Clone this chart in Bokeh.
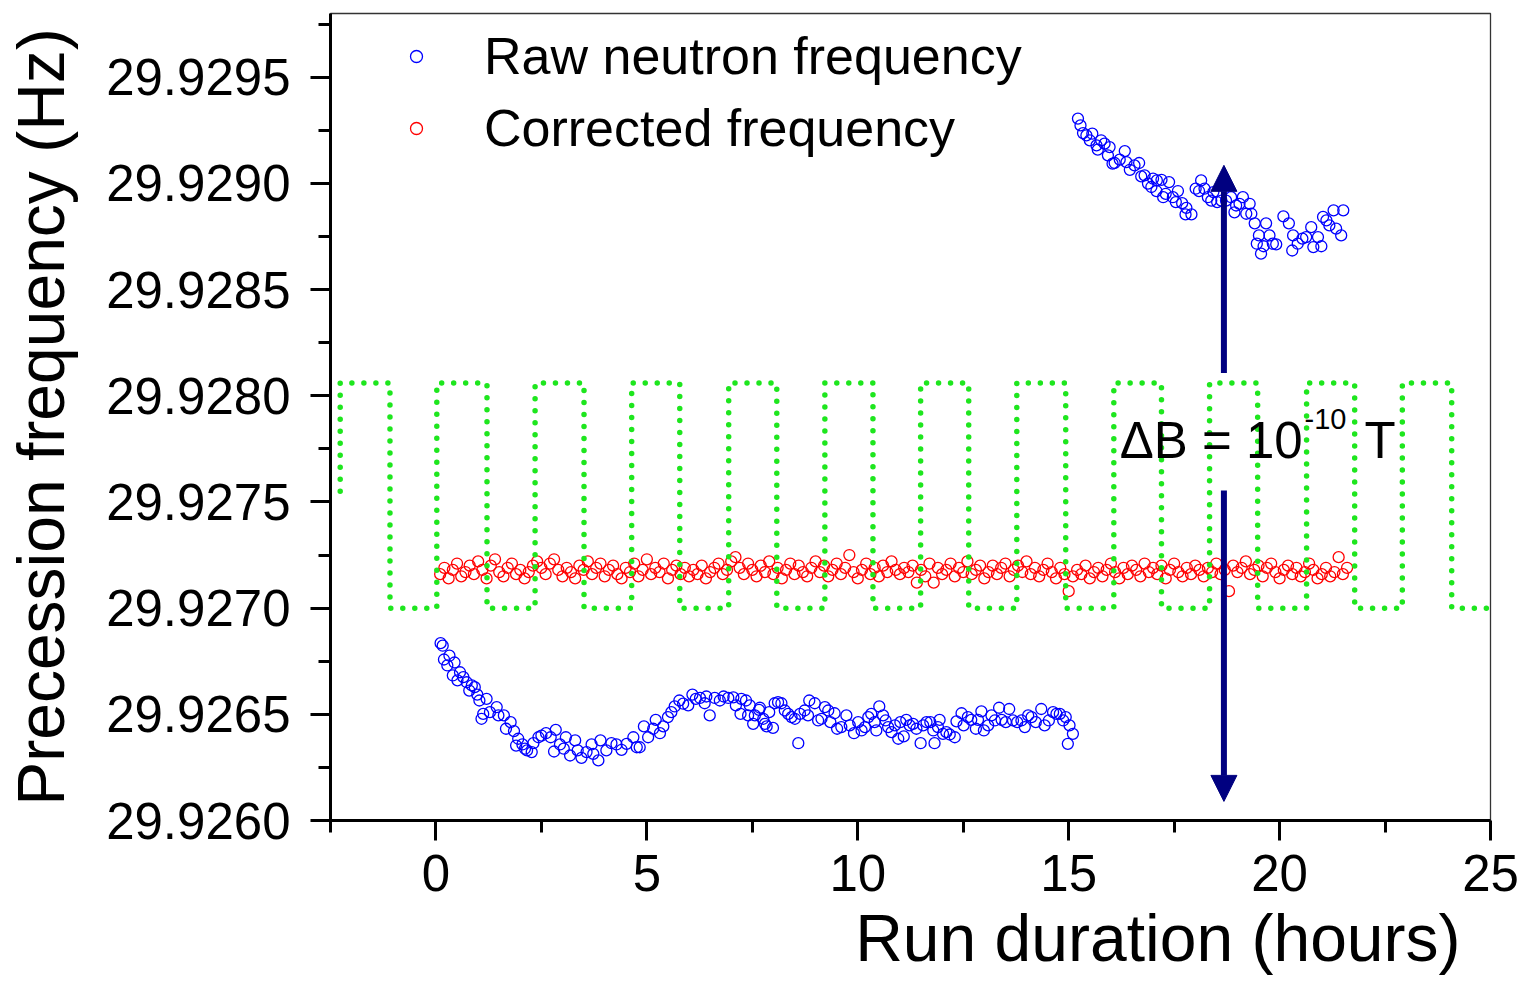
from bokeh.plotting import figure
from bokeh.models import (FixedTicker, PrintfTickFormatter, Legend, LegendItem,
                          Label, Arrow, NormalHead, Title)
from bokeh.embed import file_html
from bokeh.resources import INLINE

FONT = "Liberation Sans"

# ---------------- data ----------------
raw_t = [0.11, 0.16, 0.19, 0.27, 0.32, 0.40, 0.44, 0.51, 0.57, 0.65, 0.73, 0.79, 0.85, 0.92, 0.98,
         1.03, 1.08, 1.12, 1.20, 1.28, 1.44, 1.48, 1.61, 1.66, 1.77, 1.85, 1.90, 1.95, 2.05, 2.11,
         2.16, 2.27, 2.31, 2.43, 2.50, 2.61, 2.72, 2.80, 2.84, 2.94, 3.03, 3.08, 3.18, 3.30, 3.36,
         3.45, 3.57, 3.69, 3.73, 3.85, 3.90, 4.04, 4.16, 4.28, 4.40, 4.52, 4.68, 4.76, 4.83, 4.93,
         5.03, 5.15, 5.21, 5.31, 5.39, 5.50, 5.58, 5.66, 5.77, 5.86, 5.98, 6.08, 6.16, 6.26, 6.37,
         6.41, 6.49, 6.61, 6.73, 6.82, 6.93, 7.05, 7.11, 7.22, 7.24, 7.35, 7.40, 7.44, 7.52, 7.56,
         7.66, 7.68, 7.76, 7.80, 7.84, 7.90, 7.99, 8.03, 8.11, 8.19, 8.27, 8.35, 8.43, 8.51, 8.59,
         8.63, 8.74, 8.82, 8.85, 8.98, 9.06, 9.14, 9.22, 9.30, 9.35, 9.45, 9.51, 9.61, 9.73, 9.81,
         9.91, 10.01, 10.09, 10.17, 10.25, 10.32, 10.40, 10.44, 10.51, 10.60, 10.66, 10.72, 10.80,
         10.88, 10.96, 11.01, 11.09, 11.15, 11.23, 11.31, 11.39, 11.49, 11.55, 11.63, 11.72, 11.79,
         11.82, 11.90, 11.94, 12.02, 12.10, 12.18, 12.30, 12.34, 12.46, 12.51, 12.61, 12.69, 12.80,
         12.85, 12.93, 12.99, 13.09, 13.17, 13.25, 13.35, 13.41, 13.51, 13.59, 13.68, 13.78, 13.88,
         13.96, 14.04, 14.12, 14.22, 14.35, 14.43, 14.53, 14.63, 14.71, 14.79, 14.87, 14.93, 14.98,
         15.02, 15.10,
         15.22, 15.28, 15.34, 15.42, 15.50, 15.56, 15.66, 15.69, 15.77, 15.85, 15.93, 15.97, 16.04,
         16.09, 16.21, 16.33, 16.37, 16.45, 16.56, 16.67, 16.72, 16.80, 16.88, 16.96, 17.00, 17.08,
         17.09, 17.20, 17.24, 17.30, 17.38, 17.47, 17.54, 17.59, 17.69, 17.77, 17.79, 17.91, 18.01,
         18.09, 18.14, 18.22, 18.30, 18.38, 18.43, 18.52, 18.62, 18.73, 18.85, 18.93, 18.97, 19.05,
         19.13, 19.21, 19.29, 19.33, 19.41, 19.46, 19.51, 19.56, 19.62, 19.68, 19.76, 19.84, 19.92,
         20.09, 20.22, 20.30, 20.32, 20.43, 20.54, 20.63, 20.75, 20.80, 20.91, 20.99, 21.03, 21.11,
         21.18, 21.28, 21.34, 21.46, 21.51]
raw_f = [29.926835, 29.926823, 29.926758, 29.926730, 29.926776, 29.926683, 29.926744, 29.926660,
         29.926698, 29.926675, 29.926651, 29.926612, 29.926636, 29.926628, 29.926593, 29.926565,
         29.926479, 29.926502, 29.926573, 29.926510, 29.926534, 29.926495, 29.926495, 29.926432,
         29.926463, 29.926421, 29.926353, 29.926385, 29.926358, 29.926338, 29.926330, 29.926322,
         29.926364, 29.926392, 29.926400, 29.926411, 29.926392, 29.926325, 29.926427, 29.926358,
         29.926338, 29.926392, 29.926306, 29.926377, 29.926330, 29.926295, 29.926322, 29.926358,
         29.926314, 29.926283, 29.926377, 29.926330, 29.926364, 29.926358, 29.926333, 29.926361,
         29.926392, 29.926345, 29.926345, 29.926443, 29.926392, 29.926432, 29.926474, 29.926411,
         29.926443, 29.926487, 29.926510, 29.926537, 29.926565, 29.926550, 29.926542, 29.926593,
         29.926573, 29.926577, 29.926552, 29.926584, 29.926495, 29.926577, 29.926565, 29.926584,
         29.926577, 29.926580, 29.926542, 29.926502, 29.926573, 29.926565, 29.926495, 29.926542,
         29.926455, 29.926495, 29.926521, 29.926531, 29.926479, 29.926455, 29.926443, 29.926510,
         29.926436, 29.926552, 29.926557, 29.926552, 29.926518, 29.926502, 29.926487, 29.926479,
         29.926364, 29.926502, 29.926518, 29.926495, 29.926565, 29.926552, 29.926471, 29.926479,
         29.926534, 29.926518, 29.926463, 29.926505, 29.926432, 29.926440, 29.926495, 29.926448,
         29.926411, 29.926463, 29.926424, 29.926440, 29.926487, 29.926502, 29.926463, 29.926424,
         29.926537, 29.926495, 29.926471, 29.926440, 29.926416, 29.926448, 29.926385, 29.926463,
         29.926396, 29.926474, 29.926448, 29.926455, 29.926432, 29.926364, 29.926448, 29.926463,
         29.926463, 29.926424, 29.926364, 29.926440, 29.926474, 29.926408, 29.926416, 29.926405,
         29.926392, 29.926467, 29.926505, 29.926448, 29.926487, 29.926474, 29.926432, 29.926474,
         29.926514, 29.926424, 29.926448, 29.926495, 29.926471, 29.926531, 29.926474, 29.926463,
         29.926525, 29.926471, 29.926463, 29.926471, 29.926440, 29.926495, 29.926487, 29.926463,
         29.926525, 29.926448, 29.926471, 29.926510, 29.926502, 29.926502, 29.926471, 29.926487,
         29.926361, 29.926448, 29.926408,
         29.929305, 29.929273, 29.929237, 29.929226, 29.929203, 29.929234, 29.929179, 29.929159,
         29.929203, 29.929187, 29.929132, 29.929171, 29.929093, 29.929096, 29.929112, 29.929152,
         29.929100, 29.929064, 29.929085, 29.929096, 29.929033, 29.929038, 29.928999, 29.928983,
         29.929022, 29.928964, 29.929014, 29.929017, 29.928935, 29.928951, 29.929006, 29.928935,
         29.928912, 29.928964, 29.928907, 29.928854, 29.928885, 29.928854, 29.928975, 29.928964,
         29.929014, 29.928975, 29.928935, 29.928919, 29.928959, 29.928912, 29.928919, 29.928919,
         29.928935, 29.928864, 29.928896, 29.928904, 29.928935, 29.928857, 29.928904, 29.928857,
         29.928812, 29.928716, 29.928755, 29.928669, 29.928704, 29.928812, 29.928755, 29.928716,
         29.928713, 29.928845, 29.928812, 29.928684, 29.928755, 29.928716, 29.928740, 29.928747,
         29.928794, 29.928700, 29.928747, 29.928704, 29.928842, 29.928826, 29.928802, 29.928873,
         29.928787, 29.928755, 29.928873]

corr_t = [0.1, 0.2, 0.3, 0.4, 0.5, 0.6, 0.7, 0.8, 0.9, 1.0,
          1.1, 1.2, 1.3, 1.4, 1.5, 1.6, 1.7, 1.8, 1.9, 2.0,
          2.1, 2.2, 2.3, 2.4, 2.5, 2.6, 2.7, 2.8, 2.9, 3.0,
          3.1, 3.2, 3.3, 3.4, 3.5, 3.6, 3.7, 3.8, 3.9, 4.0,
          4.1, 4.2, 4.3, 4.4, 4.5, 4.6, 4.7, 4.8, 4.9, 5.0,
          5.1, 5.2, 5.3, 5.4, 5.5, 5.6, 5.7, 5.8, 5.9, 6.0,
          6.1, 6.2, 6.3, 6.4, 6.5, 6.6, 6.7, 6.8, 6.9, 7.0,
          7.1, 7.2, 7.3, 7.4, 7.5, 7.6, 7.7, 7.8, 7.9, 8.0,
          8.1, 8.2, 8.3, 8.4, 8.5, 8.6, 8.7, 8.8, 8.9, 9.0,
          9.1, 9.2, 9.3, 9.4, 9.5, 9.6, 9.7, 9.8, 9.9, 10.0,
          10.1, 10.2, 10.3, 10.4, 10.5, 10.6, 10.7, 10.8, 10.9, 11.0,
          11.1, 11.2, 11.3, 11.4, 11.5, 11.6, 11.7, 11.8, 11.9, 12.0,
          12.1, 12.2, 12.3, 12.4, 12.5, 12.6, 12.7, 12.8, 12.9, 13.0,
          13.1, 13.2, 13.3, 13.4, 13.5, 13.6, 13.7, 13.8, 13.9, 14.0,
          14.1, 14.2, 14.3, 14.4, 14.5, 14.6, 14.7, 14.8, 14.9, 15.0,
          15.1, 15.2, 15.3, 15.4, 15.5, 15.6, 15.7, 15.8, 15.9, 16.0,
          16.1, 16.2, 16.3, 16.4, 16.5, 16.6, 16.7, 16.8, 16.9, 17.0,
          17.1, 17.2, 17.3, 17.4, 17.5, 17.6, 17.7, 17.8, 17.9, 18.0,
          18.1, 18.2, 18.3, 18.4, 18.5, 18.6, 18.7, 18.8, 18.9, 19.0,
          19.1, 19.2, 19.3, 19.4, 19.5, 19.6, 19.7, 19.8, 19.9, 20.0,
          20.1, 20.2, 20.3, 20.4, 20.5, 20.6, 20.7, 20.8, 20.9, 21.0,
          21.1, 21.2, 21.3, 21.4, 21.5, 21.6]
corr_f = [29.92716, 29.92719, 29.92714, 29.92718, 29.92721, 29.92715, 29.92717, 29.92720, 29.92716, 29.92722,
          29.92718, 29.92714, 29.92720, 29.92723, 29.92717, 29.92715, 29.92719, 29.92721, 29.92716, 29.92718,
          29.92714, 29.92717, 29.92720, 29.92722, 29.92719, 29.92716, 29.92721, 29.92723, 29.92718, 29.92715,
          29.92719, 29.92717, 29.92714, 29.92720, 29.92718, 29.92722, 29.92716, 29.92719, 29.92721, 29.92715,
          29.92718, 29.92720, 29.92716, 29.92714, 29.92719, 29.92717, 29.92721, 29.92715, 29.92718, 29.92723,
          29.92716, 29.92719, 29.92717, 29.92721, 29.92714, 29.92718, 29.92720, 29.92716, 29.92719, 29.92715,
          29.92718, 29.92716, 29.92720, 29.92714, 29.92717, 29.92719, 29.92721, 29.92716, 29.92718, 29.92722,
          29.92724, 29.92719, 29.92716, 29.92721, 29.92718, 29.92715, 29.92720, 29.92717, 29.92722, 29.92716,
          29.92719, 29.92714, 29.92718, 29.92721, 29.92716, 29.92720, 29.92717, 29.92715, 29.92719, 29.92722,
          29.92717, 29.92720, 29.92715, 29.92718, 29.92721, 29.92716, 29.92719, 29.92725, 29.92717, 29.92714,
          29.92718, 29.92721, 29.92716, 29.92719, 29.92715, 29.92720, 29.92717, 29.92722, 29.92718, 29.92716,
          29.92719, 29.92717, 29.92720, 29.92712, 29.92718, 29.92715, 29.92721, 29.92712, 29.92719, 29.92716,
          29.92718, 29.92721, 29.92715, 29.92719, 29.92717, 29.92722, 29.92716, 29.92718, 29.92720, 29.92714,
          29.92717, 29.92720, 29.92716, 29.92719, 29.92721, 29.92715, 29.92718, 29.92720, 29.92717, 29.92722,
          29.92716, 29.92719, 29.92715, 29.92718, 29.92721, 29.92717, 29.92714, 29.92719, 29.92716, 29.92708,
          29.92715, 29.92718, 29.92716, 29.92720, 29.92714, 29.92717, 29.92719, 29.92715, 29.92718, 29.92721,
          29.92717, 29.92714, 29.92719, 29.92716, 29.92720, 29.92718, 29.92715, 29.92721, 29.92717, 29.92719,
          29.92716, 29.92720, 29.92714, 29.92718, 29.92721, 29.92717, 29.92715, 29.92719, 29.92716, 29.92720,
          29.92718, 29.92715, 29.92719, 29.92717, 29.92721, 29.92716, 29.92718, 29.92708, 29.92720, 29.92717,
          29.92719, 29.92722, 29.92716, 29.92718, 29.92720, 29.92715, 29.92719, 29.92721, 29.92717, 29.92714,
          29.92718, 29.92720, 29.92716, 29.92719, 29.92715, 29.92717, 29.92721, 29.92718, 29.92714, 29.92716,
          29.92719, 29.92715, 29.92717, 29.92724, 29.92716, 29.92719]

# magnetic-field modulation (square wave): switch times and levels
wave_t = [-2.27, -1.09, 0.02, 1.21, 2.35, 3.51, 4.64, 5.78, 6.94, 8.08, 9.22, 10.36, 11.49,
          12.63, 13.77, 14.93, 16.07, 17.20, 18.34, 19.48, 20.64, 21.78, 22.91, 24.08, 25.21]
wave_start = 29.92755
wave_high = 29.92806
wave_low = 29.92700

x_ticks = [0, 5, 10, 15, 20, 25]
x_minor = [-2.5, 2.5, 7.5, 12.5, 17.5, 22.5]
y_ticks = [29.9260, 29.9265, 29.9270, 29.9275, 29.9280, 29.9285, 29.9290, 29.9295]
y_minor = [29.92625, 29.92675, 29.92725, 29.92775, 29.92825, 29.92875, 29.92925, 29.92975]

# build the square-wave polyline
wx = [wave_t[0], wave_t[0]]
wy = [wave_start, wave_high]
cur = wave_high
for t in wave_t[1:]:
    nxt = wave_low if cur == wave_high else wave_high
    wx += [t, t]
    wy += [cur, nxt]
    cur = nxt

# ---------------- figure ----------------
p = figure(width=1519, height=981, x_range=(-2.5, 25), y_range=(29.9260, 29.92980),
           output_backend="svg", toolbar_location=None,
           min_border_left=330, min_border_right=29, min_border_top=13, min_border_bottom=161)
p.background_fill_color = "white"
p.border_fill_color = "white"
p.grid.visible = False
p.outline_line_color = "#333333"
p.outline_line_width = 1.3

r_raw = p.scatter(raw_t, raw_f, marker="circle", size=11, fill_color=None,
                  line_color="#0000FF", line_width=1.3)
r_corr = p.scatter(corr_t, corr_f, marker="circle", size=11, fill_color=None,
                   line_color="#FF0000", line_width=1.3)
p.line(wx, wy, line_color="#1EE61E", line_width=5.5, line_dash="0 12", line_cap="round")

navy = "#000080"
p.add_layout(Arrow(x_start=18.68, y_start=29.928107, x_end=18.68, y_end=29.929085,
                   line_color=navy, line_width=6,
                   end=NormalHead(size=26, fill_color=navy, line_color=navy)))
p.add_layout(Arrow(x_start=18.68, y_start=29.927554, x_end=18.68, y_end=29.926090,
                   line_color=navy, line_width=6,
                   end=NormalHead(size=26, fill_color=navy, line_color=navy)))

p.add_layout(Label(x=16.21, y=29.927790, text="\u0394B = 10", text_font=FONT,
                   text_font_size="51px", text_color="black",
                   text_baseline="alphabetic", text_align="left"))
p.add_layout(Label(x=20.59, y=29.927889, text="-10", text_font=FONT,
                   text_font_size="29px", text_color="black",
                   text_baseline="alphabetic", text_align="left"))
p.add_layout(Label(x=22.01, y=29.927790, text="T", text_font=FONT,
                   text_font_size="51px", text_color="black",
                   text_baseline="alphabetic", text_align="left"))

# axes
for ax in (p.xaxis[0], p.yaxis[0]):
    ax.axis_line_width = 3
    ax.axis_line_color = "black"
    ax.major_tick_line_width = 3
    ax.minor_tick_line_width = 3
    ax.major_tick_out = 20
    ax.major_tick_in = 0
    ax.minor_tick_out = 12
    ax.minor_tick_in = 0
    ax.major_label_text_font = FONT
    ax.major_label_text_font_size = "51px"
    ax.major_label_text_color = "black"

p.xaxis[0].ticker = FixedTicker(ticks=x_ticks, minor_ticks=x_minor)
p.yaxis[0].ticker = FixedTicker(ticks=y_ticks, minor_ticks=y_minor)
p.yaxis[0].formatter = PrintfTickFormatter(format="%.4f")
p.xaxis[0].major_label_standoff = 14
p.yaxis[0].major_label_standoff = 20

p.yaxis[0].axis_label = "Precession frequency (Hz)"
p.yaxis[0].axis_label_text_font = FONT
p.yaxis[0].axis_label_text_font_size = "66px"
p.yaxis[0].axis_label_text_font_style = "normal"
p.yaxis[0].axis_label_text_color = "black"
p.yaxis[0].axis_label_standoff = 25

p.add_layout(Title(text="Run duration (hours)", align="right", offset=30,
                   text_font=FONT, text_font_size="66px", text_font_style="normal",
                   text_color="black", standoff=11), "below")

legend = Legend(items=[LegendItem(label="Raw neutron frequency", renderers=[r_raw]),
                       LegendItem(label="Corrected frequency", renderers=[r_corr])],
                location=(71, 662), orientation="vertical",
                border_line_color=None, background_fill_alpha=0,
                label_text_font=FONT, label_text_font_size="52px", label_text_color="black",
                glyph_width=30, glyph_height=30, label_standoff=53,
                spacing=12, padding=0, margin=0)
p.add_layout(legend)

open("out.html", "w").write(file_html(p, INLINE))
